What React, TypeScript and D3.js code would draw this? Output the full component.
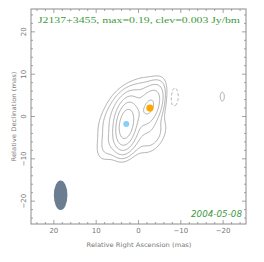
import { useMemo } from 'react'
import * as d3 from 'd3'

// VLBI image of J2137+3455, modelled as image-plane gaussians
// position (mas), peak (Jy/beam), FWHM major/minor (mas), PA (deg E of N)
const compRA = [2.9, -2.7, -3.2, 0.5, 4.5, 6.5, 6.5, 1.5, -3.5, 0.0, -19.8, -8.2]
const compDec = [-1.8, 2.0, 4.3, 5.0, 3.0, -1.0, -6.0, -5.5, -4.5, 1.0, 4.7, 4.8]
const compPeak = [0.17, 0.042, 0.01, 0.008, 0.007, 0.007, 0.009, 0.009, 0.008, 0.012, 0.0032, -0.0045]
const compMaj = [7.0, 7.0, 7.0, 7.0, 7.0, 7.0, 7.0, 7.0, 7.0, 7.0, 7.0, 7.0]
const compMin = [3.2, 3.6, 4.0, 4.0, 4.0, 4.0, 4.0, 4.0, 4.0, 4.0, 3.2, 3.2]
const compPA = [-10, -20, -30, -30, -30, -30, -30, -30, -30, -30, 0, 0]

// restoring beam (mas)
const beamRA = 18.4
const beamDec = -18.6
const beamMaj = 7.0
const beamMin = 3.2

const levels = [0.003, 0.006, 0.012, 0.024, 0.048, 0.096, 0.192]
const negLevels = [0.003]

const xTicks = [20, 10, 0, -10, -20]
const yTicks = [-20, -10, 0, 10, 20]
const minorTicks = d3.range(-24, 25, 2)

const W = 264
const H = 262
const box = { left: 31, right: 246, top: 9, bottom: 224 }
const LIM = 25.4
const STEP = 0.2

const gray = '#8c8c8c'
const green = '#3c9a3c'

export default function App() {
  const x = d3.scaleLinear().domain([LIM, -LIM]).range([box.left, box.right])
  const y = d3.scaleLinear().domain([LIM, -LIM]).range([box.top, box.bottom])

  const { pos, neg } = useMemo(() => {
    const n = Math.round((2 * LIM) / STEP) + 1
    const grid = new Float64Array(n * n)
    const f = 1 / (2 * Math.sqrt(2 * Math.LN2))
    for (let k = 0; k < compRA.length; k++) {
      const sa = compMaj[k] * f
      const sb = compMin[k] * f
      const th = (compPA[k] * Math.PI) / 180
      const s = Math.sin(th)
      const c = Math.cos(th)
      for (let j = 0; j < n; j++) {
        const dd = LIM - j * STEP - compDec[k]
        for (let i = 0; i < n; i++) {
          const dr = LIM - i * STEP - compRA[k]
          const a = (dr * s + dd * c) / sa
          const b = (dr * c - dd * s) / sb
          grid[j * n + i] += compPeak[k] * Math.exp(-0.5 * (a * a + b * b))
        }
      }
    }
    const gen = d3.contours().size([n, n])
    return {
      pos: gen.thresholds(levels)(Array.from(grid)),
      neg: gen.thresholds(negLevels)(Array.from(grid, (v) => -v)),
    }
  }, [])

  const path = d3.geoPath(
    d3.geoTransform({
      point(px, py) {
        this.stream.point(x(LIM - (px - 0.5) * STEP), y(LIM - (py - 0.5) * STEP))
      },
    })
  )

  const tickLen = 4
  const minorLen = 2

  return (
    <svg width={W} height={H} style={{ position: 'absolute', left: 0, top: 0, background: '#fff' }}>
      {/* beam */}
      <ellipse
        cx={x(beamRA)}
        cy={y(beamDec)}
        rx={x(0) - x(beamMin / 2)}
        ry={y(0) - y(beamMaj / 2)}
        fill="#6b7d90"
      />

      {/* contours */}
      {pos.map((c, i) => (
        <path key={'p' + i} d={path(c) || ''} fill="none" stroke="#9a9a9a" strokeWidth={0.8} />
      ))}
      {neg.map((c, i) => (
        <path key={'n' + i} d={path(c) || ''} fill="none" stroke="#9a9a9a" strokeWidth={0.8} strokeDasharray="3,2" />
      ))}

      {/* component markers */}
      <circle cx={x(compRA[0])} cy={y(compDec[0])} r={3} fill="#87cefa" />
      <circle cx={x(compRA[1])} cy={y(compDec[1])} r={3.6} fill="#ffa500" />

      {/* frame */}
      <rect
        x={box.left}
        y={box.top}
        width={box.right - box.left}
        height={box.bottom - box.top}
        fill="none"
        stroke={gray}
        strokeWidth={1}
      />
      {minorTicks.map((t) => {
        const l = t % 10 === 0 ? tickLen : minorLen
        return (
          <g key={'t' + t} stroke={gray} strokeWidth={0.8}>
            <line x1={x(t)} x2={x(t)} y1={box.bottom} y2={box.bottom - l} />
            <line x1={x(t)} x2={x(t)} y1={box.top} y2={box.top + l} />
            <line x1={box.left} x2={box.left + l} y1={y(t)} y2={y(t)} />
            <line x1={box.right} x2={box.right - l} y1={y(t)} y2={y(t)} />
          </g>
        )
      })}

      {/* tick labels */}
      {xTicks.map((t) => (
        <text
          key={'xl' + t}
          x={x(t)}
          y={232.5}
          textAnchor="middle"
          fontFamily="'DejaVu Sans', sans-serif"
          fontSize={7}
          fill="#777"
        >
          {t < 0 ? '\u2212' + Math.abs(t) : t}
        </text>
      ))}
      {yTicks.map((t) => (
        <text
          key={'yl' + t}
          transform={`translate(25.5,${y(t)}) rotate(-90)`}
          textAnchor="middle"
          fontFamily="'DejaVu Sans', sans-serif"
          fontSize={7}
          fill="#777"
        >
          {t < 0 ? '\u2212' + Math.abs(t) : t}
        </text>
      ))}

      {/* axis titles */}
      <text
        x={139}
        y={247}
        textAnchor="middle"
        fontFamily="'DejaVu Sans', sans-serif"
        fontSize={6.2}
        fill="#777"
        textLength={105}
        lengthAdjust="spacingAndGlyphs"
      >
        Relative Right Ascension (mas)
      </text>
      <text
        transform="translate(15.5,116.5) rotate(-90)"
        textAnchor="middle"
        fontFamily="'DejaVu Sans', sans-serif"
        fontSize={6.2}
        fill="#777"
        textLength={90}
        lengthAdjust="spacingAndGlyphs"
      >
        Relative Declination (mas)
      </text>

      {/* annotations */}
      <text
        x={38}
        y={22.5}
        fontFamily="'Liberation Serif', serif"
        fontSize={9}
        fill={green}
        textLength={202}
        lengthAdjust="spacingAndGlyphs"
      >
        J2137+3455, max=0.19, clev=0.003 Jy/bm
      </text>
      <text
        x={242}
        y={217}
        textAnchor="end"
        fontFamily="'DejaVu Sans', sans-serif"
        fontStyle="italic"
        fontSize={8}
        fill={green}
        textLength={51}
        lengthAdjust="spacingAndGlyphs"
      >
        2004-05-08
      </text>
    </svg>
  )
}
